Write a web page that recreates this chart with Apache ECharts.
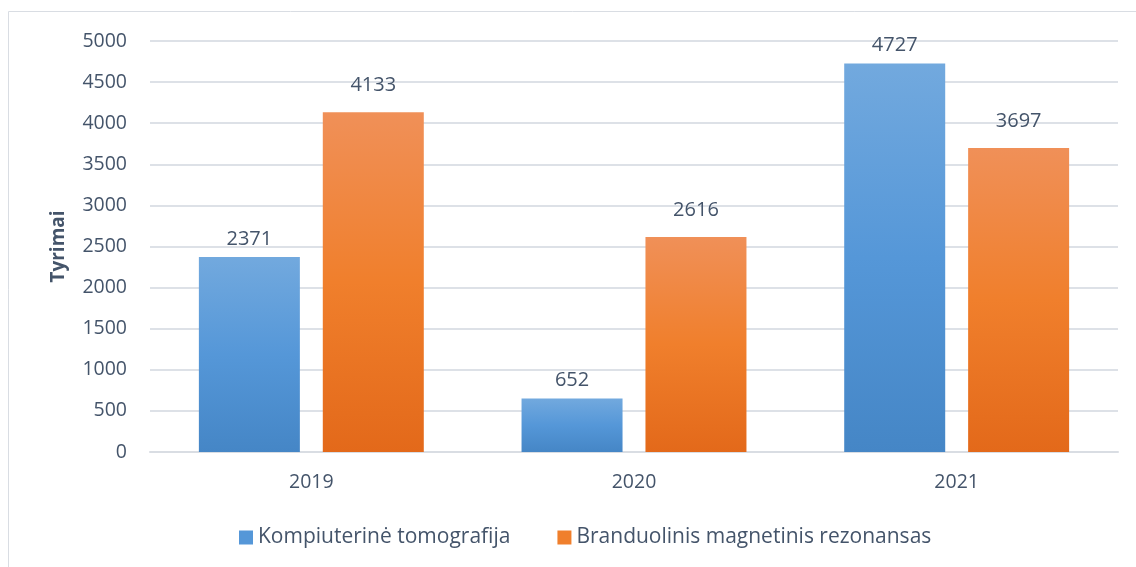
<!DOCTYPE html>
<html><head><meta charset="utf-8">
<script src="https://cdn.jsdelivr.net/npm/echarts@6/dist/echarts.min.js"></script>
<style>html,body{margin:0;padding:0;background:#fff}#c{width:1136px;height:567px}</style>
</head><body><div id="c"></div>
<script>
const categories = ['2019', '2020', '2021'];
const seriesNames = ['Kompiuterinė tomografija', 'Branduolinis magnetinis rezonansas'];
const ktValues = [2371, 652, 4727];
const bmrValues = [4133, 2616, 3697];
const yAxisName = 'Tyrimai';

const txt = '#44546a';
const font = '"Open Sans", sans-serif';
const blueGrad = new echarts.graphic.LinearGradient(0,0,0,1,[{offset:0,color:'#72a9de'},{offset:0.5,color:'#5597d8'},{offset:1,color:'#4586c6'}]);
const orangeGrad = new echarts.graphic.LinearGradient(0,0,0,1,[{offset:0,color:'#f09058'},{offset:0.5,color:'#f07f2c'},{offset:1,color:'#e3691a'}]);
const chart = echarts.init(document.getElementById('c'));
chart.setOption({
  animation:false,
  graphic:[{type:'rect',shape:{x:8.5,y:11.5,width:1140,height:570},style:{fill:null,stroke:'#d9dde3',lineWidth:1}}],
  grid:{left:150,right:18,top:41,bottom:115,containLabel:false},
  legend:{bottom:14,left:234,itemWidth:14,itemHeight:14,itemGap:47,icon:'rect',
    textStyle:{color:txt,fontSize:21,fontFamily:font},
    data:[{name:seriesNames[0],itemStyle:{color:'#5597d8'}},{name:seriesNames[1],itemStyle:{color:'#f07f2c'}}]},
  xAxis:{type:'category',data:categories,
    axisLine:{lineStyle:{color:'#d9dde3',width:2}},axisTick:{show:false},
    axisLabel:{color:txt,fontSize:19.5,fontFamily:font,margin:20}},
  yAxis:{type:'value',min:0,max:5000,interval:500,name:yAxisName,nameLocation:'middle',nameGap:82,
    nameTextStyle:{color:txt,fontSize:19,fontWeight:'bold',fontFamily:font},
    axisLine:{show:false},axisTick:{show:false},
    axisLabel:{color:txt,fontSize:19.5,fontFamily:font,margin:23,formatter:v=>String(v)},
    splitLine:{lineStyle:{color:'#dde1e7',width:2}}},
  series:[
    {name:seriesNames[0],type:'bar',data:ktValues,barWidth:'31.3%',barGap:'22.7%',
     itemStyle:{color:blueGrad},
     label:{show:true,position:'top',distance:8,color:txt,fontSize:20,fontFamily:font}},
    {name:seriesNames[1],type:'bar',data:bmrValues,barWidth:'31.3%',barGap:'22.7%',
     itemStyle:{color:orangeGrad},
     label:{show:true,position:'top',distance:17,color:txt,fontSize:20,fontFamily:font}}
  ]
});
</script></body></html>
